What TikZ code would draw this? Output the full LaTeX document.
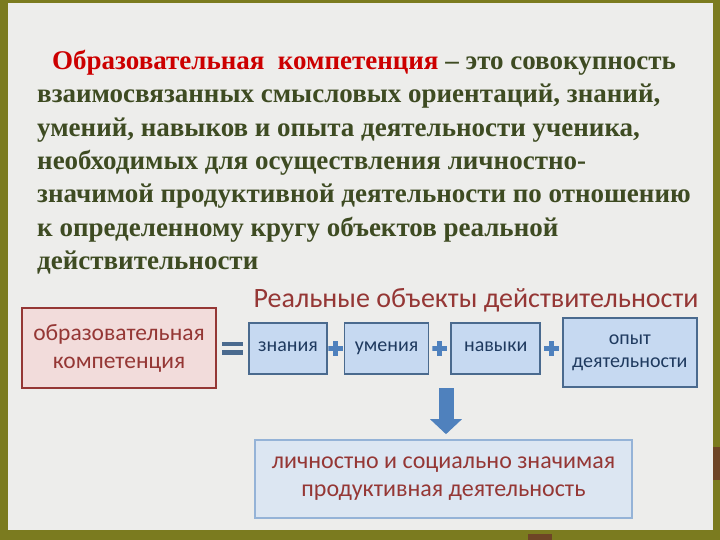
\documentclass[tikz,border=0pt]{standalone}
\usepackage{fontspec}
\setmainfont{Liberation Serif}
\newfontfamily\calibri{Carlito}
\usetikzlibrary{arrows.meta,calc,positioning}
\definecolor{olivefr}{HTML}{7B7B1F}
\definecolor{paper}{HTML}{EDEDEB}
\definecolor{brownbit}{HTML}{6E4526}
\definecolor{deftext}{HTML}{3E4B22}
\definecolor{defred}{HTML}{CC0000}
\definecolor{darkred}{HTML}{953735}
\definecolor{pinkfill}{HTML}{F2DCDB}
\definecolor{bluefill}{HTML}{C6D9F1}
\definecolor{blueline}{HTML}{4A6A8E}
\definecolor{paleblue}{HTML}{DCE6F2}
\definecolor{paleline}{HTML}{95B3D7}
\definecolor{navytext}{HTML}{1F3A5F}
\definecolor{signblue}{HTML}{4F81BD}

\begin{document}
\begin{tikzpicture}[
  x=1pt,y=-1pt,
  defn/.style={anchor=north west,inner sep=0pt,align=left,text=deftext,
               font=\bfseries\fontsize{27}{33.3}\selectfont},
  heading/.style={text=darkred,inner sep=0pt,
                  font=\calibri\fontsize{28}{30}\selectfont},
  comp/.style={draw=darkred,fill=pinkfill,line width=2pt,align=center,
               minimum width=194pt,minimum height=80pt,text=darkred,
               font=\calibri\fontsize{23.5}{28}\selectfont},
  obj/.style={draw=blueline,fill=bluefill,line width=1.6pt,align=center,
              minimum height=51pt,inner sep=2pt,text=navytext,
              font=\calibri\fontsize{20}{23}\selectfont},
  oneline/.style={text height=1.7ex,text depth=.2ex},
  result/.style={draw=paleline,fill=paleblue,line width=1.6pt,align=center,
                 minimum width=377pt,minimum height=78pt,text=darkred,
                 font=\calibri\fontsize{24}{28}\selectfont},
  plus/.style={minimum size=15pt,inner sep=0pt,path picture={
      \draw[signblue,line width=5pt]
        (path picture bounding box.west) -- (path picture bounding box.east)
        (path picture bounding box.north) -- (path picture bounding box.south);}},
  equals/.style={minimum width=21pt,minimum height=13pt,inner sep=0pt,path picture={
      \draw[blueline,line width=4.5pt]
        ([yshift=4.3pt]path picture bounding box.west) -- ([yshift=4.3pt]path picture bounding box.east)
        ([yshift=-4.3pt]path picture bounding box.west) -- ([yshift=-4.3pt]path picture bounding box.east);}},
  downarrow/.style={draw=signblue,line width=15pt,shorten >=5pt,
                    -{Triangle[width=31pt,length=15pt]}}
]
\useasboundingbox (0,0) rectangle (720,540);
% frame and paper
\fill[olivefr] (0,0) rectangle (720,540);
\fill[paper] (8,3) rectangle (713,530);
\fill[brownbit] (713,447) rectangle (720,480);
\fill[brownbit] (528,534) rectangle (552,540);

\node[defn] (definition) at (37,50) {\hspace*{15pt}{\color{defred}Образовательная\ \ компетенция} – это совокупность\\
  взаимосвязанных смысловых ориентаций, знаний,\\
  умений, навыков и опыта деятельности ученика,\\
  необходимых для осуществления личностно-\\
  значимой продуктивной деятельности по отношению\\
  к определенному кругу объектов реальной\\
  действительности};

\node[heading] (realobj) at (476,300) {Реальные объекты действительности};

\node[comp] (competence) at (119,348) {образовательная\\компетенция};
\node[obj,oneline,minimum width=78pt] (znania) at (288,348.5) {знания};
\node[obj,oneline,minimum width=84pt,right=16pt of znania] (umenia) {умения};
\node[obj,oneline,minimum width=89pt,right=21pt of umenia] (navyki) {навыки};
\node[obj,minimum width=134pt,minimum height=69pt,right=21pt of navyki,yshift=-4pt] (opyt)
  {опыт\\деятельности};
\node[result] (result) at (443.5,479) {личностно и социально значимая\\продуктивная деятельность};

\node[equals] (eq) at ($(competence.east)!0.5!(znania.west)$) {};
\node[plus] (p1) at ($(znania.east)!0.5!(umenia.west)$) {};
\node[plus] (p2) at ($(umenia.east)!0.5!(navyki.west)$) {};
\node[plus] (p3) at ($(navyki.east)!0.5!(navyki.east -| opyt.west)$) {};

\coordinate (arrtop) at (446,388);
\draw[downarrow] (arrtop) -- (arrtop |- result.north);
\end{tikzpicture}
\end{document}
